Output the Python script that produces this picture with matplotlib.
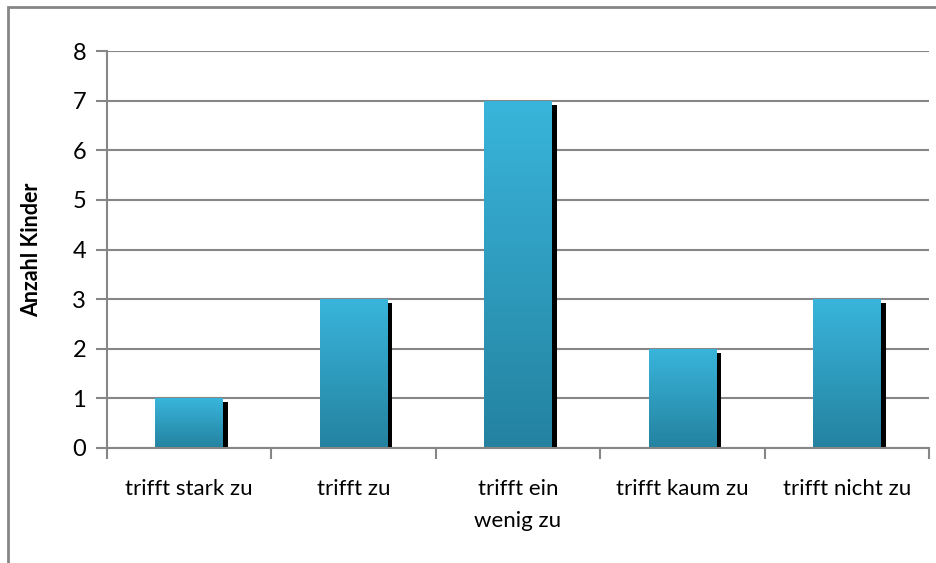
import numpy as np
import matplotlib
matplotlib.use("Agg")
import matplotlib.pyplot as plt
from matplotlib.patches import Rectangle
from matplotlib.transforms import ScaledTranslation
from matplotlib.colors import LinearSegmentedColormap

categories = ["trifft stark zu", "trifft zu", "trifft ein\nwenig zu", "trifft kaum zu", "trifft nicht zu"]
values = [1, 3, 7, 2, 3]
y_ticks = [0, 1, 2, 3, 4, 5, 6, 7, 8]
y_label = "Anzahl Kinder"

plt.rcParams['font.family'] = ['Lato', 'DejaVu Sans']
W, H = 937, 563
dpi = 100
fig = plt.figure(figsize=(W / dpi, H / dpi), dpi=dpi)
ax = fig.add_axes([107 / W, 1 - 448 / H, (929 - 107) / W, (448 - 51) / H])

grid_col = "#868686"
x = np.arange(len(categories))
bw = 0.41

# shadow
shadow_tr = ax.transData + ScaledTranslation(5 / dpi, -4 / dpi, fig.dpi_scale_trans)
ax.bar(x, values, width=bw, color="black", transform=shadow_tr, zorder=2)

# gradient bars
cmap = LinearSegmentedColormap.from_list("g", ["#2482A0", "#39B5DB"])
grad = np.linspace(0, 1, 256).reshape(-1, 1)
bars = ax.bar(x, values, width=bw, color="none", zorder=3)
for b, v in zip(bars, values):
    im = ax.imshow(grad, cmap=cmap, origin="lower", aspect="auto",
                   extent=[b.get_x(), b.get_x() + b.get_width(), 0, v], zorder=3)
    im.set_clip_path(b)

ax.set_xlim(-0.5, len(categories) - 0.5)
ax.set_ylim(0, 8)
ax.set_yticks(y_ticks)
ax.set_xticks(x)
ax.set_xticklabels(categories, fontsize=16, linespacing=1.75)
ax.set_xticks(np.arange(-0.5, len(categories), 1), minor=True)
ax.tick_params(axis="x", which="major", length=0, pad=22)
ax.tick_params(axis="x", which="minor", length=8, width=1.5, color=grid_col)
ax.tick_params(axis="y", length=8, width=1.5, color=grid_col, labelsize=17, pad=7)
ax.yaxis.grid(True, color=grid_col, linewidth=1.5, zorder=0)
ax.set_axisbelow(True)
for s in ["top", "right"]:
    ax.spines[s].set_visible(False)
for s in ["left", "bottom"]:
    ax.spines[s].set_color(grid_col)
    ax.spines[s].set_linewidth(1.5)
    ax.spines[s].set_zorder(5)

fig.text(32 / W, 1 - 250 / H, y_label, rotation=90, ha="center", va="center",
         fontsize=15.5, fontweight="bold")

fig.patches.append(Rectangle((8 / W, -0.1), 1.2, 1 - 7 / H + 0.1, transform=fig.transFigure,
                             fill=False, edgecolor=grid_col, linewidth=2))

fig.savefig("out.png", dpi=dpi)
